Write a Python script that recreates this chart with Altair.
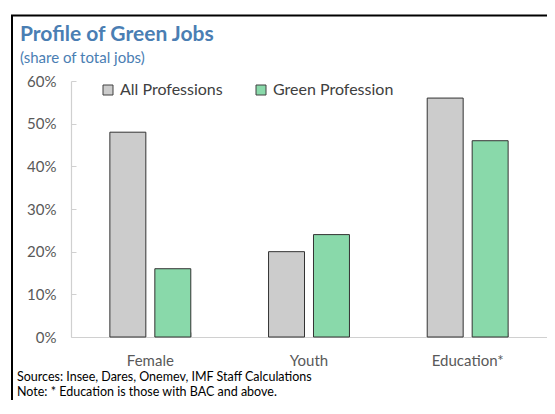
import altair as alt
import pandas as pd

categories = ["Female", "Youth", "Education*"]
series = ["All Professions", "Green Profession"]
all_professions = [0.48, 0.20, 0.56]
green_profession = [0.16, 0.24, 0.46]
y_ticks = [0, 0.1, 0.2, 0.3, 0.4, 0.5, 0.6]

title_text = "Profile of Green Jobs"
subtitle_text = "(share of total jobs)"
source_text = "Sources: Insee, Dares, Onemev, IMF Staff Calculations"
note_text = "Note: * Education is those with BAC and above."

rows = []
for i, c in enumerate(categories):
    rows.append({"category": c, "series": series[0], "value": all_professions[i]})
    rows.append({"category": c, "series": series[1], "value": green_profession[i]})
df = pd.DataFrame(rows)

FONT = "Lato"
TXT = "#595959"
BLUE = "#4a7eb3"

W = 476
xscale = alt.Scale(domain=categories, paddingInner=0.49, paddingOuter=0.245)
yscale = alt.Scale(domain=[0, 0.6])
cscale = alt.Scale(domain=series, range=["#cccccc", "#89d9aa"])
offscale = alt.Scale(paddingInner=0.2, paddingOuter=0)

bars = alt.Chart(df).mark_bar(stroke="#333333", strokeWidth=1).encode(
    x=alt.X("category:N", scale=xscale, sort=categories, title=None,
            axis=alt.Axis(orient="bottom", labelAngle=0, ticks=False, tickSize=0,
                          domainColor="#d0d0d0", domainWidth=1.2,
                          labelColor=TXT, labelFont=FONT, labelFontSize=15,
                          labelPadding=16, grid=False)),
    xOffset=alt.XOffset("series:N", scale=offscale, sort=series),
    y=alt.Y("value:Q", scale=yscale, title=None,
            axis=alt.Axis(orient="left", values=y_ticks, format=".0%", ticks=False,
                          tickSize=0, domainColor="#d0d0d0", domainWidth=1.2,
                          labelColor=TXT, labelFont=FONT, labelFontSize=15,
                          labelPadding=15, grid=False)),
    fill=alt.Fill("series:N", scale=cscale, sort=series, title=None,
                  legend=alt.Legend(orient="none", legendX=29, legendY=1,
                                    direction="horizontal", symbolType="square",
                                    symbolSize=100, symbolStrokeColor="#404040",
                                    symbolStrokeWidth=1, labelFont=FONT,
                                    labelFontSize=16, labelColor="#404040",
                                    labelOffset=4, columnPadding=30, padding=0)),
)

ticks_layer = alt.Chart(df).mark_bar(opacity=0).encode(
    x=alt.X("category:N", scale=xscale, sort=categories, title=None,
            axis=alt.Axis(orient="bottom", offset=-5, tickSize=5, tickBand="extent",
                          tickColor="#d0d0d0", domain=False, labels=False, grid=False)),
    xOffset=alt.XOffset("series:N", scale=offscale, sort=series),
    y=alt.Y("value:Q", scale=yscale, title=None,
            axis=alt.Axis(orient="left", offset=-5, tickSize=5, values=y_ticks,
                          tickColor="#d0d0d0", domain=False, labels=False, grid=False)),
)

def text_layer(t, x, y, size, color, weight="normal"):
    return alt.Chart(pd.DataFrame({"t": [t]})).mark_text(
        align="left", baseline="alphabetic", font=FONT, fontSize=size,
        color=color, fontWeight=weight
    ).encode(text="t:N", x=alt.value(x), y=alt.value(y))

frame_top = alt.Chart(pd.DataFrame({"a": [0]})).mark_rule(
    color="#000000", strokeWidth=2
).encode(x=alt.value(-60), x2=alt.value(W), y=alt.value(-65.5))

frame_left = alt.Chart(pd.DataFrame({"a": [0]})).mark_rule(
    color="#000000", strokeWidth=2
).encode(x=alt.value(-59), y=alt.value(-66), y2=alt.value(333))

chart = alt.layer(
    frame_top,
    frame_left,
    bars,
    ticks_layer,
    text_layer(title_text, -51, -40, 21, BLUE, "bold"),
    text_layer(subtitle_text, -51, -18, 15, BLUE),
    text_layer(source_text, -54, 300, 12.5, "#000000"),
    text_layer(note_text, -54, 315, 12.5, "#000000"),
).resolve_axis(x="independent", y="independent").properties(
    width=W, height=256,
    autosize=alt.AutoSizeParams(type="none"),
    padding={"left": 63, "top": 73, "right": 0, "bottom": 63},
).configure_view(stroke=None)

chart.save("out.html", embed_options={"renderer": "svg", "actions": False})
